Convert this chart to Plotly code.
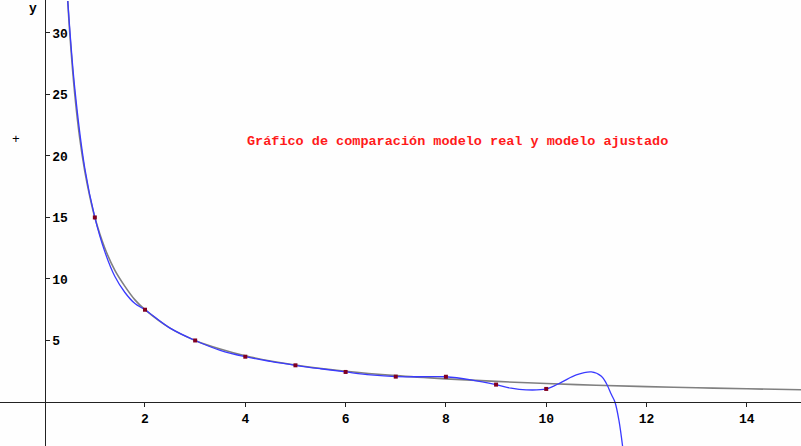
import plotly.graph_objects as go

# Real model curve
real_x = [0.46, 0.5, 0.6, 0.7, 0.8, 0.9, 1.0, 1.2, 1.4, 1.6, 1.8, 2.0, 2.5, 3.0, 3.5, 4.0,
          5.0, 6.0, 7.0, 8.0, 9.0, 10.0, 11.0, 12.0, 13.0, 14.0, 15.2]
real_y = [32.6, 30.0, 25.0, 21.4, 18.75, 16.7, 15.0, 12.5, 10.7, 9.4, 8.3, 7.5, 6.0, 5.0, 4.3, 3.75,
          3.0, 2.5, 2.14, 1.88, 1.67, 1.5, 1.36, 1.25, 1.15, 1.07, 0.99]

# Fitted model curve
fit_x = [0.46, 0.6, 0.8, 1.0, 1.2, 1.4, 1.6, 1.8, 2.0, 2.5, 3.0, 3.5, 4.0, 4.5, 5.0, 5.5, 6.0,
         6.5, 7.0, 7.5, 8.0, 8.5, 9.0, 9.3, 9.6, 10.0, 10.3, 10.6, 10.9, 11.1, 11.2, 11.3,
         11.37, 11.45, 11.55]
fit_y = [32.6, 25.5, 19.0, 15.0, 12.2, 10.2, 8.9, 8.0, 7.5, 6.0, 5.0, 4.2, 3.68, 3.3, 2.98, 2.7, 2.44,
         2.2, 2.06, 2.05, 2.05, 1.8, 1.41, 1.12, 0.98, 1.06, 1.6, 2.2, 2.44, 2.1, 1.5, 0.6,
         0.0, -1.5, -4.5]

# Observed data points
obs_x = [1, 2, 3, 4, 5, 6, 7, 8, 9, 10]
obs_y = [15.0, 7.5, 5.0, 3.68, 2.98, 2.44, 2.06, 2.05, 1.41, 1.06]

x_ticks = [2, 4, 6, 8, 10, 12, 14]
y_ticks = [5, 10, 15, 20, 25, 30]

title_text = "Gráfico de comparación modelo real y modelo ajustado"

xr = [-0.891, 15.08]
yr = [-3.58, 32.68]

fig = go.Figure()
fig.add_trace(go.Scatter(x=real_x, y=real_y, mode="lines", line=dict(color="#808080", width=1.6, shape="spline"),
                         hoverinfo="skip"))
fig.add_trace(go.Scatter(x=fit_x, y=fit_y, mode="lines", line=dict(color="#3a3aff", width=1.3, shape="spline"),
                         hoverinfo="skip"))
fig.add_trace(go.Scatter(x=obs_x, y=obs_y, mode="markers",
                         marker=dict(symbol="square", size=4, color="#800020", line=dict(width=0))))

font_axis = dict(family="Liberation Mono", size=13, color="#000000")

fig.update_layout(
    width=801, height=446, margin=dict(l=0, r=0, t=0, b=0, pad=0),
    paper_bgcolor="#fefefe", plot_bgcolor="#fefefe", showlegend=False,
    xaxis=dict(range=xr, anchor="free", position=-yr[0] / (yr[1] - yr[0]), automargin=False,
               showgrid=False, zeroline=False, showline=True, linecolor="#222", linewidth=1,
               tickvals=x_ticks, ticktext=[f"<b>{v}</b>" for v in x_ticks],
               ticks="outside", ticklen=4, tickcolor="#222", tickfont=font_axis),
    yaxis=dict(range=yr, anchor="free", position=-xr[0] / (xr[1] - xr[0]), side="right", automargin=False,
               showgrid=False, zeroline=False, showline=True, linecolor="#222", linewidth=1,
               tickvals=y_ticks, ticktext=[f"<b>{v}</b>" for v in y_ticks],
               ticks="outside", ticklen=4, tickcolor="#222", tickfont=font_axis),
    annotations=[
        dict(x=4.0, y=21.2, xref="x", yref="y", text=f"<b>{title_text}</b>", showarrow=False,
             xanchor="left", yanchor="middle",
             font=dict(family="Liberation Mono", size=13.5, color="#ff1a1a")),
        dict(x=33 / 801, y=1 - 8 / 446, xref="paper", yref="paper", text="<b>y</b>", showarrow=False,
             xanchor="center", yanchor="middle",
             font=dict(family="Liberation Mono", size=13, color="#000000")),
        dict(x=16 / 801, y=1 - 139 / 446, xref="paper", yref="paper", text="+", showarrow=False,
             xanchor="center", yanchor="middle",
             font=dict(family="Liberation Mono", size=13, color="#000000")),
    ],
)

fig.write_html("out.html", config={"displayModeBar": False},
               post_script="document.body.style.margin='0';document.body.style.overflow='hidden';")
